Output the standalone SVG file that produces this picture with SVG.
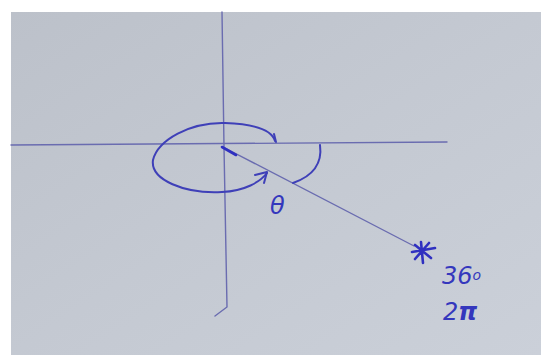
<svg xmlns="http://www.w3.org/2000/svg" width="541" height="356" viewBox="0 0 541 356">
<defs>
<linearGradient id="paper" x1="0" y1="0" x2="1" y2="1">
<stop offset="0" stop-color="#bcc1ca"/>
<stop offset="0.5" stop-color="#c4c9d2"/>
<stop offset="1" stop-color="#cbd0d9"/>
</linearGradient>
<style>
.axis{fill:none;stroke:#6a6cb0;stroke-width:1.4;stroke-linecap:round}
.ink{fill:none;stroke:#3f40b8;stroke-width:2;stroke-linecap:round;stroke-linejoin:round}
.bold{fill:none;stroke:#2f30c0;stroke-width:2.6;stroke-linecap:round}
.txt{font-family:"DejaVu Sans",sans-serif;fill:#3437bd;font-style:italic}
</style>
</defs>
<rect width="541" height="356" fill="#ffffff"/>
<rect x="11" y="12" width="530" height="343" fill="url(#paper)"/>
<g id="connectors">
<path class="axis" d="M11 145 L447 142"/>
<path class="axis" d="M222 12 L224 147 L227 307 L215 316"/>
<path class="axis" d="M223 147 L414 246"/>
</g>
<g id="angle-loop">
<path class="bold" d="M222 147 L236 155"/>
<path class="ink" d="M275 141 C272 130 255 124 225 123 C190 122 158 140 153 160 C150 180 185 194 222 192 C245 191 260 182 267 173"/>
<path class="ink" d="M274 134 L276 142"/>
<path class="ink" d="M255 175 L267 172 L264 183"/>
<path class="ink" d="M320 145 C322 160 316 175 293 183"/>
</g>
<g id="theta">
<text class="txt" x="270" y="214" font-size="24" font-style="normal">θ</text>
</g>
<g id="star">
<path class="bold" d="M412 252 L435 248 M421 242 L423 263 M415 245 L431 258 M429 243 L415 259"/>
</g>
<g id="labels">
<text class="txt" x="442" y="284" font-size="24">36<tspan font-size="14" dy="-4">o</tspan></text>
<text class="txt" x="443" y="320" font-size="24">2<tspan font-weight="bold">π</tspan></text>
</g>
</svg>
